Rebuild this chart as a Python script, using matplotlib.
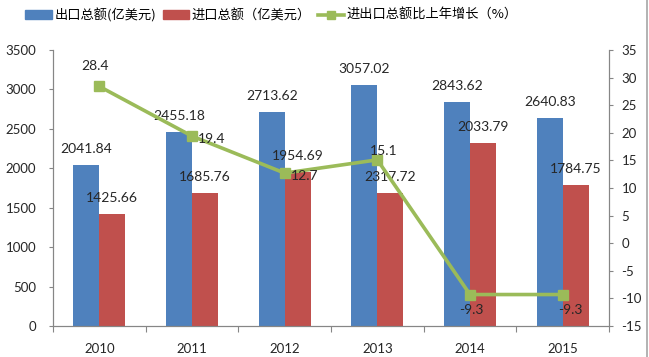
import numpy as np
import matplotlib.pyplot as plt
from matplotlib.lines import Line2D

plt.rcParams['font.family'] = ['Lato', 'Noto Sans CJK SC', 'DejaVu Sans']
plt.rcParams['axes.unicode_minus'] = False

# data
years = ['2010', '2011', '2012', '2013', '2014', '2015']
export_values = [2041.84, 2455.18, 2713.62, 3057.02, 2843.62, 2640.83]
import_values = [1425.66, 1685.76, 1954.69, 1685.0, 2317.72, 1784.75]
# the source chart's import labels do not all match the bar heights
import_labels = ['1425.66', '1685.76', '1954.69', '2317.72', '2033.79', '1784.75']
growth = [28.4, 19.4, 12.7, 15.1, -9.3, -9.3]

# label offsets (pixels) for the growth line labels
growth_offsets = [(-4, 20), (20, -3), (20, -3), (6, 9), (1, -15), (8, -15)]

blue = '#4F81BD'
red = '#C0504D'
green = '#9BBB59'
axis_grey = '#868686'
txt = '#262626'

W, H = 649, 357
fig = plt.figure(figsize=(W / 100, H / 100), dpi=100)
ax = fig.add_axes([53 / W, (H - 326) / H, (609 - 53) / W, (326 - 50) / H])

x = np.arange(len(years))
bw = 0.28
ax.bar(x - bw / 2, export_values, bw, color=blue, label='出口总额(亿美元)')
ax.bar(x + bw / 2, import_values, bw, color=red, label='进口总额（亿美元）')

px = 72 / 100  # points per pixel
for xi, v in zip(x, export_values):
    ax.annotate(f'{v:.2f}', (xi - bw / 2, v), xytext=(0, 16 * px), textcoords='offset points',
                ha='center', va='center', fontsize=10, color=txt)
for xi, v, lab in zip(x, import_values, import_labels):
    ax.annotate(lab, (xi + bw / 2, v), xytext=(0, 16 * px), textcoords='offset points',
                ha='center', va='center', fontsize=10, color=txt)

ax.set_ylim(0, 3500)
ax.set_yticks(np.arange(0, 3501, 500))
ax.set_xlim(-0.5, len(years) - 0.5)
ax.set_xticks(np.arange(-0.5, len(years), 1))
ax.set_xticklabels([])
ax.set_xticks(x, minor=True)
ax.set_xticklabels(years, minor=True)
ax.tick_params(axis='x', which='major', length=4, color=axis_grey, direction='out')
ax.tick_params(axis='x', which='minor', length=0, pad=12, labelsize=9.5, labelcolor=txt)
ax.tick_params(axis='y', length=3, color=axis_grey, pad=9, labelsize=9.5, labelcolor=txt)

ax2 = ax.twinx()
ax2.plot(x, growth, color=green, lw=2.6, marker='s', markersize=6.5,
         label='进出口总额比上年增长（%）')
for xi, v, (dx, dy) in zip(x, growth, growth_offsets):
    ax2.annotate(f'{v}', (xi, v), xytext=(dx * px, dy * px), textcoords='offset points',
                 ha='center', va='center', fontsize=10, color=txt)
ax2.set_ylim(-15, 35)
ax2.set_yticks(np.arange(-15, 36, 5))
ax2.tick_params(axis='y', length=3, color=axis_grey, pad=6, labelsize=9.5, labelcolor=txt)

for a in (ax, ax2):
    a.spines['top'].set_visible(False)
    for s in ('left', 'right', 'bottom'):
        a.spines[s].set_color(axis_grey)
        a.spines[s].set_linewidth(0.8)

handles = [plt.Rectangle((0, 0), 1, 1, color=blue),
           plt.Rectangle((0, 0), 1, 1, color=red),
           Line2D([], [], color=green, lw=2.6, marker='s', markersize=6)]
labels = ['出口总额(亿美元)', '进口总额（亿美元）', '进出口总额比上年增长（%）']
fig.legend(handles, labels, loc='center left', bbox_to_anchor=(20 / W, 1 - 15 / H),
           ncol=3, frameon=False, handlelength=2.0, handleheight=0.6,
           handletextpad=0.2, columnspacing=0.5, borderaxespad=0,
           prop={'family': ['Noto Sans CJK SC', 'DejaVu Sans'], 'size': 9.5})

# right edge of the chart frame
fig.add_artist(Line2D([646.5 / W, 646.5 / W], [0, 1], color='#A6A6A6', lw=1.2))

fig.savefig('out.png', dpi=100)
